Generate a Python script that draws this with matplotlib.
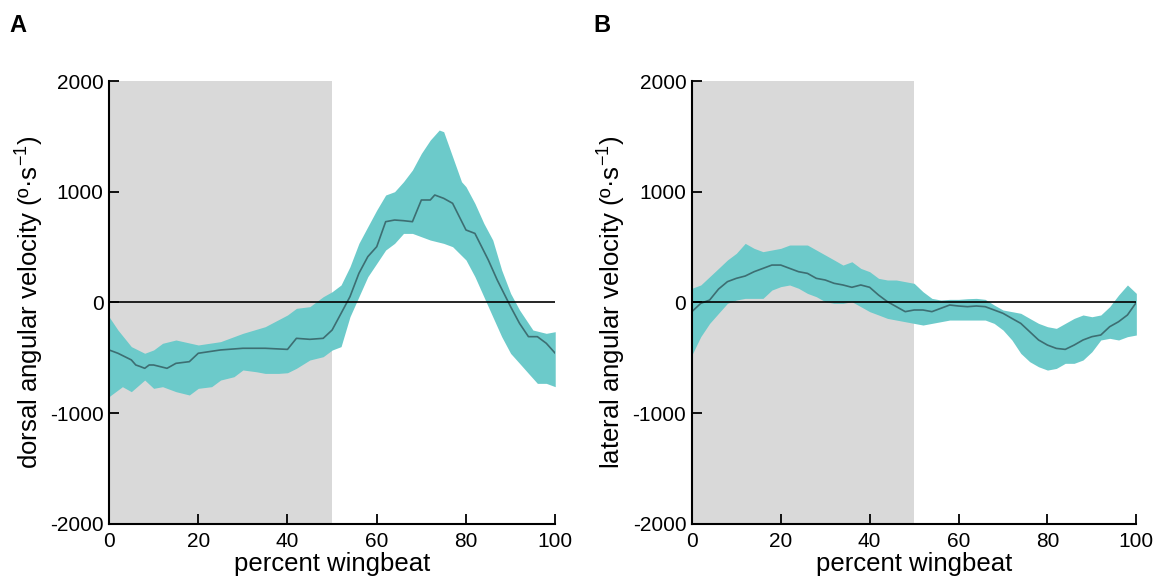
import matplotlib
matplotlib.use('Agg')
import matplotlib.pyplot as plt
import numpy as np

plt.rcParams['font.family'] = ['Liberation Sans', 'DejaVu Sans']
plt.rcParams['mathtext.fontset'] = 'custom'
plt.rcParams['mathtext.rm'] = 'Liberation Sans'
plt.rcParams['mathtext.it'] = 'Liberation Sans'
plt.rcParams['axes.unicode_minus'] = False

# panel A: dorsal angular velocity
a_mean_x = [0, 2, 5, 6, 7, 8, 9, 10, 13, 15, 18, 20, 25, 30, 35, 40, 42, 45, 48, 50,
            52, 54, 56, 58, 60, 62, 64, 66, 68, 70, 72, 73, 75, 77, 80, 82, 85, 87, 90,
            92, 94, 96, 98, 100]
a_mean_y = [-430, -460, -520, -566, -580, -596, -566, -566, -596, -551, -536, -460, -430,
            -415, -415, -425, -325, -334, -325, -250, -100, 51, 262, 413, 503, 729, 744,
            738, 729, 925, 925, 970, 940, 895, 654, 623, 383, 202, -39, -190, -310, -310,
            -370, -460]
a_up_x = [0, 2, 5, 8, 10, 12, 15, 20, 25, 30, 35, 40, 42, 45, 48, 50, 52, 54, 56, 58, 60,
          62, 64, 66, 68, 70, 72, 74, 75, 77, 79, 80, 82, 84, 86, 88, 90, 92, 95, 98, 100]
a_up_y = [-130, -250, -400, -460, -430, -370, -340, -385, -355, -280, -220, -114, -54, -39,
          51, 96, 157, 322, 533, 684, 834, 970, 1000, 1090, 1196, 1346, 1467, 1557, 1542,
          1316, 1090, 1045, 894, 714, 563, 292, 81, -69, -250, -280, -265]
a_lo_x = [0, 3, 5, 8, 10, 12, 15, 18, 20, 23, 25, 28, 30, 33, 35, 38, 40, 42, 45, 48, 50,
          52, 54, 56, 58, 60, 62, 64, 66, 68, 70, 72, 75, 77, 80, 82, 84, 86, 88, 90, 92,
          94, 96, 98, 100]
a_lo_y = [-852, -762, -807, -702, -777, -762, -807, -837, -777, -762, -702, -672, -611,
          -627, -642, -642, -636, -596, -521, -491, -431, -400, -130, 51, 232, 352, 473,
          533, 623, 623, 593, 563, 533, 503, 383, 232, 51, -130, -310, -461, -551, -642,
          -732, -732, -762]

# panel B: lateral angular velocity
b_x = [0, 2, 4, 6, 8, 10, 12, 14, 16, 18, 20, 22, 24, 26, 28, 30, 32, 34, 36, 38, 40, 42,
       44, 46, 48, 50, 52, 54, 56, 58, 60, 62, 64, 66, 68, 70, 72, 74, 76, 78, 80, 82, 84,
       86, 88, 90, 92, 94, 96, 98, 100]
b_mean = [-84, -9, 21, 120, 187, 217, 238, 277, 307, 337, 337, 307, 277, 262, 217, 202, 172,
          157, 136, 157, 136, 66, 6, -39, -84, -69, -69, -84, -54, -24, -33, -39, -33, -39,
          -69, -99, -145, -190, -265, -340, -386, -416, -425, -386, -340, -310, -295, -220,
          -175, -114, 0]
b_up = [127, 157, 232, 307, 383, 443, 533, 488, 458, 473, 488, 518, 518, 518, 473, 428, 383,
        337, 367, 307, 277, 217, 202, 202, 187, 172, 96, 36, 21, 27, 27, 33, 36, 27, -24,
        -69, -84, -99, -145, -190, -220, -235, -190, -145, -114, -130, -114, -39, 66, 157, 81]
b_lo = [-476, -310, -190, -99, -9, 21, 36, 36, 36, 111, 142, 157, 127, 81, 51, 6, -9, -9, 6,
        -39, -84, -114, -145, -160, -175, -190, -205, -190, -175, -160, -160, -160, -160,
        -160, -190, -250, -340, -461, -536, -582, -612, -597, -551, -551, -521, -446, -340,
        -325, -340, -310, -295]

fill_col = '#6ccaca'
line_col = '#3d6e72'
xt = [0, 20, 40, 60, 80, 100]
yt = [-2000, -1000, 0, 1000, 2000]

fig = plt.figure(figsize=(11.56, 5.85), dpi=100)
axA = fig.add_axes([0.0943, 0.1048, 0.386, 0.7567])
axB = fig.add_axes([0.5985, 0.1048, 0.3845, 0.7567])


def style(ax, ylabel):
    ax.axvspan(0, 50, color='#d9d9d9', lw=0, zorder=0)
    ax.axhline(0, color='black', lw=1.2, zorder=3)
    ax.set_xlim(0, 100)
    ax.set_ylim(-2000, 2000)
    ax.set_xticks(xt)
    ax.set_yticks(yt)
    ax.tick_params(direction='in', length=7, width=1.3, labelsize=15)
    ax.tick_params(axis='x', pad=6)
    ax.tick_params(axis='y', pad=4)
    for s in ['top', 'right']:
        ax.spines[s].set_visible(False)
    for s in ['left', 'bottom']:
        ax.spines[s].set_linewidth(1.5)
    ax.set_xlabel('percent wingbeat', fontsize=18.5, labelpad=1)
    ax.set_ylabel(ylabel, fontsize=18.5, labelpad=3)


# A
xs = np.linspace(0, 100, 401)
uA = np.interp(xs, a_up_x, a_up_y)
lA = np.interp(xs, a_lo_x, a_lo_y)
axA.fill_between(xs, lA, uA, color=fill_col, lw=0, zorder=1)
axA.plot(a_mean_x, a_mean_y, color=line_col, lw=1.2, zorder=2)
style(axA, r'dorsal angular velocity (º·s$^{-1}$)')

# B
axB.fill_between(b_x, b_lo, b_up, color=fill_col, lw=0, zorder=1)
axB.plot(b_x, b_mean, color=line_col, lw=1.2, zorder=2)
style(axB, r'lateral angular velocity (º·s$^{-1}$)')

fig.text(0.008, 0.945, 'A', fontsize=17, fontweight='bold')
fig.text(0.513, 0.945, 'B', fontsize=17, fontweight='bold')

fig.savefig('out.png', dpi=100)
